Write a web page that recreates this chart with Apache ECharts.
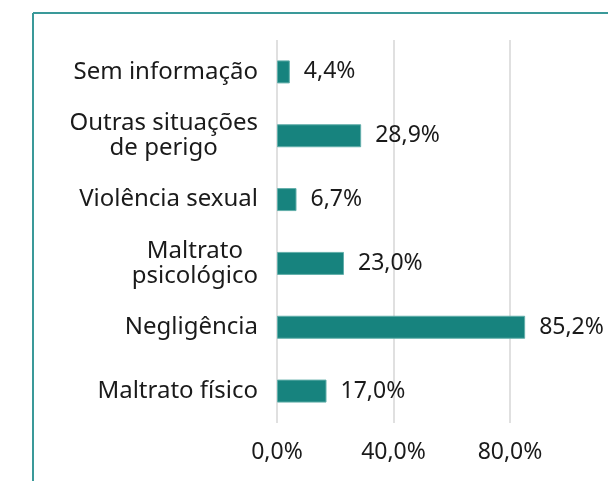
<!DOCTYPE html>
<html>
<head>
<meta charset="utf-8">
<script src="https://cdn.jsdelivr.net/npm/echarts@6/dist/echarts.min.js"></script>
<style>
  html, body { margin: 0; padding: 0; background: #fff; }
  #chart { width: 608px; height: 481px; }
</style>
</head>
<body>
<div id="chart"></div>
<script>
  // categories bottom -> top (as the category axis draws them)
  var categories = [
    'Maltrato físico',
    'Negligência',
    'Maltrato\npsicológico',
    'Violência sexual',
    'Outras situações\nde perigo',
    'Sem informação'
  ]
  var values = [17.0, 85.2, 23.0, 6.7, 28.9, 4.4]
  var xTicks = [0, 40, 80, 120]

  function pct(v) {
    return v.toFixed(1).replace('.', ',') + '%'
  }

  var chart = echarts.init(document.getElementById('chart'))
  var font = 'Noto Sans'
  var size = 23

  chart.setOption({
    backgroundColor: '#fff',
    animation: false,
    grid: {
      left: 277,
      top: 40,
      width: 349.5,
      height: 383,
      outerBoundsMode: 'none'
    },
    xAxis: {
      type: 'value',
      min: xTicks[0],
      max: xTicks[xTicks.length - 1],
      interval: 40,
      axisLine: { show: false },
      axisTick: { show: false },
      axisLabel: {
        margin: 18,
        showMaxLabel: false,
        fontFamily: font,
        fontSize: size,
        color: '#1a1a1a',
        formatter: function (v) { return pct(v) }
      },
      splitLine: { lineStyle: { color: '#e0e0e0', width: 2 } }
    },
    yAxis: {
      type: 'category',
      data: categories,
      axisLine: { show: false },
      axisTick: { show: false },
      axisLabel: {
        margin: 19,
        fontFamily: font,
        fontSize: 24,
        color: '#1a1a1a',
        lineHeight: 25,
        formatter: function (v) {
          return v.split('\n').map(function (s) { return '{c|' + s + '}' }).join('\n')
        },
        rich: {
          c: { align: 'center', fontFamily: font, fontSize: 24, color: '#1a1a1a', lineHeight: 25 }
        }
      }
    },
    series: [
      {
        type: 'bar',
        data: values,
        barWidth: 23,
        itemStyle: {
          color: '#17837e',
          borderColor: '#62aeaa',
          borderWidth: 1
        },
        label: {
          show: true,
          position: 'right',
          distance: 14,
          fontFamily: font,
          fontSize: size,
          color: '#1a1a1a',
          formatter: function (p) { return pct(p.value) }
        }
      }
    ],
    graphic: [
      {
        type: 'line',
        shape: { x1: 33, y1: 13, x2: 608, y2: 13 },
        style: { stroke: '#3a9999', lineWidth: 2 }
      },
      {
        type: 'line',
        shape: { x1: 33, y1: 13, x2: 33, y2: 481 },
        style: { stroke: '#3a9999', lineWidth: 2 }
      }
    ]
  })
</script>
</body>
</html>
